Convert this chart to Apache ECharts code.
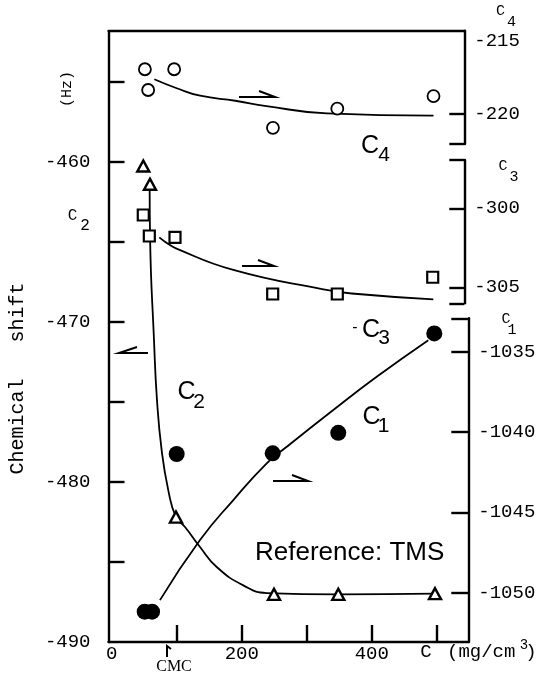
<!DOCTYPE html>
<html><head><meta charset="utf-8">
<script src="https://cdn.jsdelivr.net/npm/echarts@6/dist/echarts.min.js"></script>
<style>html,body{margin:0;padding:0;background:#fff}#c{width:538px;height:675px}</style>
</head><body><div id="c"></div>
<script>
// ---- data (x = concentration C, mg/cm3) ----
// C4 (open circles, right top axis, Hz)
const c4X = [51, 56, 96, 248, 347, 495];
const c4Y = [-216.95, -218.36, -216.95, -220.93, -219.63, -218.77];
const c4FitX = [65.5, 100, 136, 190, 238, 331, 495];
const c4FitY = [-217.63, -218.24, -218.75, -219.09, -219.45, -219.95, -220.1];
// C3 (open squares, right middle axis, Hz)
const c3X = [48.5, 57.8, 97.3, 247.6, 347, 493.8];
const c3Y = [-300.42, -301.75, -301.84, -305.42, -305.42, -304.36];
const c3FitX = [73.2, 81.9, 98.8, 187, 325.5, 369.2, 494.7];
const c3FitY = [-301.84, -302.11, -302.53, -303.9, -305.13, -305.39, -305.76];
// C2 (open triangles, left axis, Hz)
const c2X = [48.5, 58.8, 98.8, 249.6, 348.5, 497.3];
const c2Y = [-460.25, -461.39, -482.19, -487.02, -487.02, -486.98];
const c2FitX = [58.3, 59, 65, 69.6, 76.8, 87, 98.8, 112.7, 135.8, 161.5, 202.4, 238.4, 348.1, 497.3];
const c2FitY = [-461.6, -464.8, -471.14, -474.89, -478.02, -480.52, -482.19, -482.81, -484.06, -485.31, -486.46, -486.94, -487.02, -486.98];
// C1 (filled circles, right bottom axis, Hz)
const c1X = [50.7, 62, 99.9, 247.6, 348.5, 496.2];
const c1Y = [-1051.18, -1051.18, -1041.36, -1041.32, -1040.04, -1033.85];
const c1FitX = [74.2, 135.8, 187, 238.4, 269.2, 340.8, 407.6, 487];
const c1FitY = [-1050.46, -1046.72, -1044.23, -1041.94, -1040.91, -1038.62, -1036.55, -1034.27];
// tick labels
const xTickVals = [100, 200, 300, 400, 500];
const xLabelVals = [0, 200, 400];
const leftTickVals = [-485, -480, -475, -470, -465, -460, -455];
const leftLabelVals = [-490, -480, -470, -460];
const c4LabelVals = [-215, -220];
const c3LabelVals = [-300, -305];
const c1LabelVals = [-1035, -1040, -1045, -1050];

// ---- layout ----
const MONO = '"Liberation Mono","DejaVu Sans Mono",monospace';
const SANS = '"Liberation Sans","DejaVu Sans",sans-serif';
const X_MIN = -5, PX_PER_X = 0.65, GL = 108.5;
const WF = 359.8, WS = 355.8;
const pair = (xs, ys) => xs.map((x, i) => [x, ys[i]]);
const Y0 = {min: -490, max: -451.9};
const YC4 = {min: -222.03, max: -214.33};
const YC3 = {min: -306.01, max: -296.94};
const YC1 = {min: -1053.07, max: -1032.91};
const LW = 2.4;
const plain = v => String(v);

function xAx(gi, w, extra) {
  return Object.assign({
    type: 'value', gridIndex: gi, min: X_MIN, max: X_MIN + w / PX_PER_X,
    splitLine: {show: false}, axisTick: {show: false}, axisLabel: {show: false},
    axisLine: {show: false}
  }, extra || {});
}
function rightY(gi, ext, tickVals, labelVals, tickLen) {
  return {
    type: 'value', gridIndex: gi, position: 'right', min: ext.min, max: ext.max,
    splitLine: {show: false},
    axisLine: {show: true, onZero: false, lineStyle: {color: '#000', width: LW}},
    axisTick: {show: true, inside: true, length: tickLen, customValues: tickVals, lineStyle: {color: '#000', width: LW}},
    axisLabel: {show: true, customValues: labelVals, formatter: plain, margin: 10, color: '#000', fontFamily: MONO, fontSize: 19}
  };
}
const lineS = (xi, yi, xs, ys) => ({
  type: 'line', xAxisIndex: xi, yAxisIndex: yi, data: pair(xs, ys), symbol: 'none',
  smooth: 0.5, lineStyle: {color: '#000', width: 1.8}, z: 2, silent: true
});
const ptS = (xi, yi, xs, ys, sym, size, fill, bw) => ({
  type: 'scatter', xAxisIndex: xi, yAxisIndex: yi, data: pair(xs, ys), symbol: sym, symbolSize: size,
  itemStyle: {color: fill, borderColor: '#000', borderWidth: bw, opacity: 1}, z: 5, silent: true
});

function txt(x, y, text, font, align) {
  return {type: 'text', x: x, y: y, z: 10, style: {text: text, font: font, fill: '#000',
    align: align || 'center', verticalAlign: 'middle', textAlign: align || 'center', textVerticalAlign: 'middle'}};
}
function rtxt(x, y, text, font) {
  const t = txt(x, y, text, font); t.rotation = Math.PI / 2; return t;
}
function harpoon(pts) {
  return {type: 'polyline', z: 10, shape: {points: pts}, style: {stroke: '#000', lineWidth: 2, fill: null}};
}
const g = (top, w, h) => ({left: GL, top: top, width: w, height: h, containLabel: false, outerBoundsMode: 'none'});

const option = {
  animation: false,
  backgroundColor: '#fff',
  grid: [g(32.4, WF, 609.6), g(30.7, WS, 113.3), g(160, WS, 143.3), g(318.3, WF, 323.7)],
  xAxis: [
    xAx(0, WF, {
      position: 'bottom',
      axisLine: {show: true, onZero: false, lineStyle: {color: '#000', width: LW}},
      axisTick: {show: true, inside: true, length: 17, customValues: xTickVals, lineStyle: {color: '#000', width: LW}},
      axisLabel: {show: true, customValues: xLabelVals, formatter: plain, margin: 2, color: '#000', fontFamily: MONO, fontSize: 19}
    }),
    xAx(1, WS, {position: 'top', axisLine: {show: true, onZero: false, lineStyle: {color: '#000', width: LW}}}),
    xAx(2, WS),
    xAx(3, WF)
  ],
  yAxis: [
    {
      type: 'value', gridIndex: 0, position: 'left', min: Y0.min, max: Y0.max,
      splitLine: {show: false},
      axisLine: {show: true, onZero: false, lineStyle: {color: '#000', width: LW}},
      axisTick: {show: true, inside: true, length: 16, customValues: leftTickVals, lineStyle: {color: '#000', width: LW}},
      axisLabel: {show: true, customValues: leftLabelVals, formatter: plain, margin: 18, color: '#000', fontFamily: MONO, fontSize: 19}
    },
    rightY(1, YC4, [YC4.min, -220], c4LabelVals, 15),
    rightY(2, YC3, [YC3.min, -305, -300, YC3.max], c3LabelVals, 15),
    rightY(3, YC1, [-1050, -1045, -1040, -1035, YC1.max], c1LabelVals, 17)
  ],
  series: [
    lineS(1, 1, c4FitX, c4FitY),
    lineS(2, 2, c3FitX, c3FitY),
    lineS(0, 0, c2FitX, c2FitY),
    lineS(3, 3, c1FitX, c1FitY),
    ptS(1, 1, c4X, c4Y, 'circle', 12, '#fff', 1.8),
    ptS(2, 2, c3X, c3Y, 'rect', 11, '#fff', 2.2),
    ptS(0, 0, c2X, c2Y, 'triangle', [12, 11], '#fff', 2.4),
    ptS(3, 3, c1X, c1Y, 'circle', 16, '#000', 0)
  ],
  graphic: [
    rtxt(18, 378.5, 'Chemical   shift', '20px ' + MONO),
    rtxt(67, 89, '(Hz)', '15px ' + MONO),
    txt(72.5, 216, 'C', '16px ' + MONO), txt(85, 226, '2', '16px ' + MONO),
    txt(500.5, 11, 'C', '15px ' + MONO), txt(511.5, 22, '4', '15px ' + MONO),
    txt(503, 166, 'C', '15px ' + MONO), txt(514, 177, '3', '15px ' + MONO),
    txt(506, 319, 'C', '15px ' + MONO), txt(512, 330, '1', '15px ' + MONO),
    txt(426, 652, 'C', '19px ' + MONO),
    txt(447, 652, '(mg/cm', '19px ' + MONO, 'left'),
    txt(524, 645, '3', '14px ' + MONO),
    txt(531, 652, ')', '19px ' + MONO),
    txt(174, 667, 'CMC', '16px "Liberation Serif",serif'),
    harpoon([[167, 657], [167, 646], [171, 649]]),
    txt(370, 146, 'C', '25px ' + SANS), txt(384, 155, '4', '21px ' + SANS),
    txt(355, 328, '-', '16px ' + SANS),
    txt(371, 330, 'C', '25px ' + SANS), txt(384, 338, '3', '21px ' + SANS),
    txt(186.5, 392.5, 'C', '25px ' + SANS), txt(199, 402.5, '2', '21px ' + SANS),
    txt(371.5, 417.5, 'C', '25px ' + SANS), txt(383.5, 426.5, '1', '21px ' + SANS),
    txt(255, 553, 'Reference: TMS', '26px ' + SANS, 'left'),
    harpoon([[137, 347], [119, 353], [148, 353]]),
    harpoon([[239, 97], [275, 97], [259, 91]]),
    harpoon([[242, 266], [274, 266], [258, 260]]),
    harpoon([[273, 481], [308, 481], [292, 475]])
  ]
};
const chart = echarts.init(document.getElementById('c'));
chart.setOption(option);
</script>
</body></html>
